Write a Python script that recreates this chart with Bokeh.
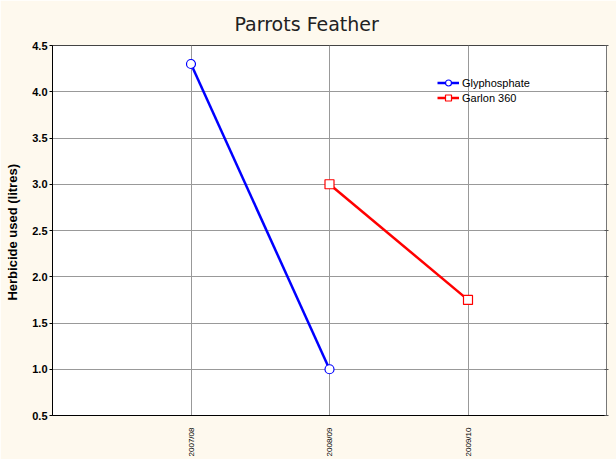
from bokeh.plotting import figure
from bokeh.models import FixedTicker, PrintfTickFormatter, LinearAxis, Legend, LegendItem, Range1d, CustomJSTickFormatter
from bokeh.embed import file_html
from bokeh.resources import INLINE
import math

# Data
seasons = ["2007/08", "2008/09", "2009/10"]
gly_x = ["2007/08", "2008/09"]
gly_y = [4.3, 1.0]
gar_x = ["2008/09", "2009/10"]
gar_y = [3.0, 1.75]
y_ticks = [0.5, 1.0, 1.5, 2.0, 2.5, 3.0, 3.5, 4.0, 4.5]

BG = "#FEF9EE"

p = figure(width=616, height=459, x_range=seasons, y_range=Range1d(0.5, 4.5),
           output_backend="svg", toolbar_location=None,
           min_border_left=52, min_border_right=10, min_border_top=45, min_border_bottom=41,
           background_fill_color="white", border_fill_color=BG)
p.x_range.range_padding = 0.5
p.x_range.range_padding_units = "absolute"

p.title.text = "Parrots Feather"
p.title.align = "left"
p.title.offset = 182
p.title.text_font = "DejaVu Sans"
p.title.text_font_size = "19px"
p.title.text_font_style = "normal"
p.title.text_color = "#222222"
p.title.standoff = 18
p.title.vertical_align = "top"

p.outline_line_color = "#444444"
p.outline_line_width = 1

# grids
p.xgrid.grid_line_color = "#999999"
p.ygrid.grid_line_color = "#999999"
p.ygrid.ticker = FixedTicker(ticks=y_ticks)

# y axis
ya = p.yaxis[0]
ya.ticker = FixedTicker(ticks=y_ticks)
ya.formatter = PrintfTickFormatter(format="%.1f")
ya.axis_label = "Herbicide used  (litres)"
ya.axis_label_text_font = "Liberation Sans"
ya.axis_label_text_font_size = "13px"
ya.axis_label_text_font_style = "bold"
ya.axis_label_text_color = "black"
ya.axis_label_standoff = 9
ya.major_label_text_font = "Liberation Sans"
ya.major_label_text_font_size = "11px"
ya.major_label_text_font_style = "bold"
ya.major_label_text_color = "black"
ya.major_label_standoff = 2
ya.major_tick_out = 3
ya.major_tick_in = 0
ya.minor_tick_line_color = None
ya.axis_line_color = "black"

# x axis
xa = p.xaxis[0]
xa.major_label_orientation = math.pi / 2
xa.major_label_text_font = "Liberation Sans"
xa.major_label_text_font_size = "8px"
xa.major_label_text_color = "black"
xa.major_label_standoff = 6
xa.major_tick_line_color = None
xa.axis_line_color = "black"

# right axis (ticks only)
ra = LinearAxis(ticker=FixedTicker(ticks=y_ticks),
                formatter=CustomJSTickFormatter(code="return ''"),
                major_tick_out=2, major_tick_in=2, minor_tick_line_color=None,
                axis_line_color="#777777", major_tick_line_color="#555555")
p.add_layout(ra, "right")

l1 = p.line(gly_x, gly_y, line_color="#0000FF", line_width=2.5)
c1 = p.scatter(gly_x, gly_y, marker="circle", size=9, fill_color="white",
               line_color="#0000FF", line_width=1.2)
l2 = p.line(gar_x, gar_y, line_color="#FF0000", line_width=2.5)
c2 = p.scatter(gar_x, gar_y, marker="square", size=9, fill_color="white",
               line_color="#FF0000", line_width=1.2)

legend = Legend(items=[LegendItem(label="Glyphosphate", renderers=[l1, c1]),
                       LegendItem(label="Garlon 360", renderers=[l2, c2])],
                location=(385, 310), padding=0, margin=0, spacing=0,
                label_height=15, glyph_height=15, glyph_width=22, label_standoff=3,
                label_text_font="Liberation Sans", label_text_font_size="11px",
                label_text_color="black",
                background_fill_alpha=0, border_line_color=None)
p.add_layout(legend, "center")

open("out.html", "w").write(file_html(p, INLINE))
